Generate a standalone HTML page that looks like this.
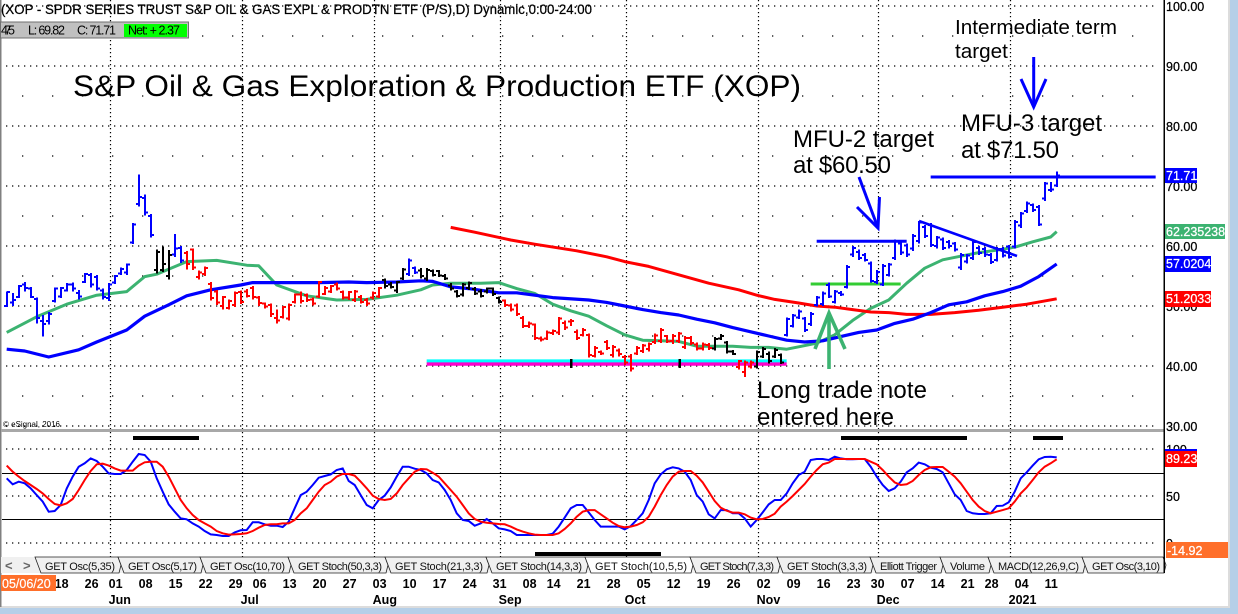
<!DOCTYPE html>
<html lang="en">
<head>
<meta charset="utf-8">
<title>XOP chart</title>
<style>
html,body{margin:0;padding:0;background:#b5cfe8;}
body{width:1238px;height:614px;overflow:hidden;}
svg{display:block;font-family:"Liberation Sans",Arial,sans-serif;}
.ax{font-size:12.5px;fill:#000;stroke:#000;stroke-width:.25;}
.tag{font-size:12.5px;fill:#fff;stroke:#fff;stroke-width:.25;}
.note{font-size:24px;fill:#000;}
.dt{font-size:12.5px;font-weight:bold;fill:#000;}
.tb{font-size:11px;fill:#111;}
</style>
</head>
<body>
<svg id="chart" xmlns="http://www.w3.org/2000/svg" width="1238" height="614" viewBox="0 0 1238 614">
  <rect x="0" y="0" width="1238" height="614" fill="#b5cfe8"/>
  <rect x="0" y="0" width="1229" height="607" fill="#fff"/>
  <rect x="1228" y="0" width="2" height="608" fill="#dcdcdc"/>
  <rect x="0" y="606" width="1230" height="2" fill="#dcdcdc"/>
  <rect x="0" y="0" width="1.5" height="607" fill="#808080"/>
  <g id="grid"></g>
  <g id="levels"></g>
  <g id="mas"></g>
  <g id="bars" shape-rendering="crispEdges"></g>
  <g id="osc"></g>

  <g fill="#000">
    <rect x="570" y="359" width="2.5" height="9"/>
    <rect x="678.5" y="359" width="2.5" height="9"/>
  </g>
  <g stroke="#3cb371" stroke-width="3.6" fill="none">
    <path d="M829 369V313"/>
    <path d="M815 349L829 313L845 349"/>
  </g>
  <g stroke="#0000ff" stroke-width="3" fill="none">
    <path d="M859 177L878 228"/>
    <path d="M857 207L878 228L879.5 197"/>
  </g>
  <g stroke="#0000ff" stroke-width="3" fill="none">
    <path d="M1033.7 57V107"/>
    <path d="M1021 79L1033.7 107L1046 79"/>
  </g>
  <line x1="919" y1="221" x2="1017" y2="256" stroke="#0000ff" stroke-width="2.6"/>

  <text x="1" y="14" font-size="13.5" textLength="591" lengthAdjust="spacingAndGlyphs" stroke="#000" stroke-width=".25">(XOP - SPDR SERIES TRUST S&amp;P OIL &amp; GAS EXPL &amp; PRODTN ETF (P/S),D) Dynamic,0:00-24:00</text>
  <g>
    <rect x="0.5" y="22" width="188" height="16" fill="#c0c0c0" stroke="#707070"/>
    <text x="1" y="34.5" font-size="12.5" textLength="14">475</text>
    <text x="28" y="34.5" font-size="12.5" textLength="37">L: 69.82</text>
    <text x="77" y="34.5" font-size="12.5" textLength="39">C: 71.71</text>
    <rect x="124" y="24" width="63" height="13" fill="#00ff00"/>
    <text x="128" y="34.5" font-size="12.5" textLength="52">Net: + 2.37</text>
  </g>
  <text x="73" y="96" font-size="30" textLength="728" lengthAdjust="spacingAndGlyphs">S&amp;P Oil &amp; Gas Exploration &amp; Production ETF (XOP)</text>
  <text x="3" y="427" font-size="8" textLength="57">© eSignal, 2016</text>

  <text class="note" x="955" y="34" style="font-size:20.7px" textLength="162">Intermediate term</text>
  <text class="note" x="955" y="58" style="font-size:20.7px">target</text>
  <text class="note" x="961" y="131" textLength="141">MFU-3 target</text>
  <text class="note" x="961" y="158" textLength="98">at $71.50</text>
  <text class="note" x="793" y="147" textLength="141">MFU-2 target</text>
  <text class="note" x="793" y="173" textLength="98">at $60.50</text>
  <text class="note" x="757" y="398" textLength="170">Long trade note</text>
  <text class="note" x="757" y="425" textLength="137">entered here</text>

  <rect x="1" y="429" width="1163" height="3" fill="#a8a8a8"/>
  <rect x="133" y="436" width="66" height="4" fill="#000"/>
  <rect x="841" y="436" width="126" height="4" fill="#000"/>
  <rect x="1033" y="436" width="30" height="4" fill="#000"/>

  <rect x="1" y="557" width="1163" height="16" fill="#f0f0f0"/>
  <rect x="535" y="552" width="126" height="4" fill="#000"/>
  <text x="5" y="570" font-size="13" font-weight="bold" fill="#666">&lt;</text>
  <text x="23" y="570" font-size="13" font-weight="bold" fill="#666">&gt;</text>
  <g id="tabs"></g>
  <g id="dates"></g>
  <rect x="1" y="575" width="55" height="16" fill="#ff6f2a"/>
  <text x="2" y="588" font-size="12.5" fill="#fff" stroke="#fff" stroke-width=".2">05/06/20</text>

  <rect x="1163.5" y="0" width="1.5" height="573" fill="#000"/>
  <g id="yaxis"></g>
  <rect x="1165" y="168" width="32" height="15" fill="#0000ff"/>
  <text class="tag" x="1166" y="180">71.71</text>
  <rect x="1165" y="224" width="60" height="15" fill="#3cb371"/>
  <text class="tag" x="1166" y="236">62.235238</text>
  <rect x="1165" y="256" width="46" height="16" fill="#0000ff"/>
  <text class="tag" x="1166" y="268">57.0204</text>
  <rect x="1165" y="291" width="46" height="16" fill="#ff0000"/>
  <text class="tag" x="1166" y="303">51.2033</text>
  <rect x="1165" y="449" width="32" height="3" fill="#0000ff"/>
  <rect x="1165" y="451" width="32" height="16" fill="#ff0000"/>
  <text class="tag" x="1166" y="463">89.23</text>
  <rect x="1166" y="542" width="62" height="16" fill="#ff6f2a"/>
  <text class="tag" x="1167" y="555">-14.92</text>
</svg>
<script>
const highs = [52.4,52.2,53.5,54.0,53.2,51.4,48.5,49.0,53.1,53.2,
53.8,53.9,52.7,55.5,55.5,55.2,52.9,53.8,55.2,56.4,
57.1,63.8,71.9,68.6,65.3,59.4,59.9,59.3,62.0,60.0,
59.2,59.6,55.9,56.6,54.0,52.7,51.7,51.1,52.4,52.6,
52.8,53.3,51.7,50.6,50.4,49.4,50.0,50.4,52.1,52.4,
52.1,51.4,54.2,53.3,53.5,53.9,52.6,52.5,52.7,51.8,
51.3,52.4,53.2,54.6,54.0,54.2,56.3,57.9,56.6,56.3,
56.3,56.1,56.0,55.3,53.8,52.7,53.8,54.1,53.2,52.8,
53.1,53.1,51.6,51.1,50.4,50.4,48.3,47.4,47.1,44.9,
45.9,46.1,48.2,47.6,47.8,46.1,46.3,45.4,43.3,42.6,
44.3,43.5,42.9,41.8,42.0,43.3,43.7,43.9,45.4,46.3,
45.2,45.3,45.7,45.0,45.0,43.9,43.9,43.8,44.8,45.3,
44.2,42.7,41.0,40.9,40.9,42.6,43.2,42.4,43.0,42.1,
48.1,48.7,49.4,48.2,49.0,51.7,52.4,53.9,52.7,52.5,
56.8,60.0,59.4,58.8,57.4,56.0,57.0,57.2,61.1,60.7,
60.4,62.0,64.2,63.5,63.8,61.7,61.4,61.0,60.7,58.8,
58.7,61.0,60.0,59.8,58.8,59.8,59.8,60.2,64.3,65.7,
67.4,67.1,66.8,70.7,70.7,72.4];
const lows = [49.8,50.0,51.3,52.4,51.3,47.1,44.9,46.9,50.6,51.3,
52.4,52.4,51.1,53.8,53.1,52.6,51.1,50.8,53.7,55.2,
55.2,60.3,66.6,65.1,61.4,55.4,55.7,54.4,58.2,57.2,
56.1,56.0,54.4,55.0,50.9,50.2,49.4,49.4,49.8,50.3,
51.4,51.1,50.0,49.6,48.2,47.1,47.9,47.6,50.4,50.4,
50.7,50.1,51.3,51.8,52.2,52.6,51.1,51.0,50.7,50.4,
50.0,51.1,51.3,52.9,52.9,52.2,54.3,55.0,55.3,54.6,
54.2,54.9,54.8,54.3,52.6,51.4,51.6,52.7,51.8,51.4,
52.1,51.7,50.4,49.8,49.1,48.3,46.3,46.3,44.3,44.1,
44.3,45.2,45.2,46.0,46.7,44.3,44.9,41.4,41.4,41.8,
42.7,41.4,41.6,40.2,39.1,41.8,42.2,42.4,43.7,43.8,
43.8,43.7,43.8,42.8,43.5,42.6,42.6,42.7,42.6,44.3,
42.1,41.8,39.4,38.2,39.6,39.6,41.3,40.4,41.3,40.3,
44.9,46.4,47.8,45.7,46.7,49.9,50.0,51.3,50.4,51.7,
52.9,58.2,57.7,57.4,53.9,53.7,53.3,54.9,57.7,58.5,
58.2,59.2,60.4,61.3,59.8,59.6,59.3,59.6,59.1,56.0,
57.1,57.7,58.5,58.2,57.0,57.4,58.1,57.9,59.6,63.0,
65.5,65.7,63.3,67.5,69.0,69.8];
const opens = [50.0,50.6,51.5,53.6,52.9,51.2,47.5,47.5,50.8,51.6,
52.6,53.6,52.2,54.0,55.2,54.8,52.6,51.3,53.9,55.4,
55.6,60.6,67.0,68.0,65.0,56.0,56.0,55.0,58.6,59.7,
58.8,59.4,54.8,55.3,53.7,52.4,50.0,49.7,50.2,52.3,
52.4,53.0,51.4,50.4,50.2,48.0,48.2,47.9,50.7,51.9,
51.8,51.1,51.6,52.0,52.4,53.6,52.3,51.4,51.0,51.5,
51.0,51.4,51.6,54.3,53.6,52.6,54.6,55.3,56.3,55.9,
54.6,55.8,55.8,55.0,53.4,52.4,51.9,53.0,52.8,52.4,
52.4,52.9,51.3,50.9,50.1,50.1,48.0,46.7,46.9,44.6,
44.6,45.5,45.6,47.2,47.4,45.7,45.2,45.2,41.7,42.3,
44.0,41.8,42.6,41.5,41.6,42.1,42.5,42.8,44.0,44.2,
45.0,44.2,44.2,43.2,44.7,43.6,42.9,43.5,42.9,44.6,
43.9,42.4,39.8,39.0,39.9,39.9,41.6,42.0,41.6,41.8,
45.2,46.7,48.1,47.9,47.0,50.2,50.3,53.5,50.7,52.2,
53.2,58.6,59.0,58.5,57.1,54.0,53.6,55.2,58.0,60.4,
60.1,59.6,60.8,63.2,63.5,60.0,61.1,60.7,60.4,56.4,
57.4,58.0,59.7,59.5,58.5,57.7,59.5,59.9,59.9,63.4,
65.8,66.8,66.5,67.9,69.3,70.1];
const closes = [52.3,51.0,53.3,53.0,51.5,48.0,47.0,48.7,52.9,53.0,
53.6,52.9,51.6,55.3,53.6,52.9,51.5,53.6,55.0,56.2,
56.9,63.6,68.2,65.6,61.8,59.0,57.0,58.5,59.6,57.6,
57.0,56.4,55.6,56.3,51.3,50.6,51.5,50.8,52.2,50.7,
51.7,51.5,50.5,49.9,48.7,47.6,49.8,50.2,51.9,50.8,
51.0,50.4,54.0,53.0,53.3,52.9,51.4,52.3,52.4,50.7,
50.4,52.2,53.0,53.3,53.2,54.0,56.1,57.6,55.6,55.0,
56.0,55.2,55.1,54.6,52.9,51.7,53.6,53.8,52.1,51.7,
52.9,52.0,50.7,50.2,49.4,48.7,46.7,47.1,44.7,44.4,
45.6,45.8,47.9,46.4,47.5,44.7,46.0,41.8,43.0,42.1,
43.0,43.2,42.0,40.6,39.6,43.0,43.4,43.7,45.1,46.0,
44.1,45.0,45.4,44.7,43.8,42.9,43.6,43.0,44.5,45.0,
42.4,42.0,40.8,40.6,40.6,42.3,42.8,40.8,42.7,40.6,
47.8,48.4,49.1,46.0,48.7,51.4,52.1,51.6,52.4,51.9,
56.5,59.7,58.0,57.7,54.2,55.7,56.7,56.9,60.8,58.9,
58.6,61.7,63.9,61.7,60.2,61.4,59.7,60.0,59.4,58.5,
58.4,60.7,58.8,58.6,57.3,59.5,58.4,58.2,64.0,65.4,
67.1,66.0,63.6,70.4,69.4,71.71];
const regimeStarts = [0,25,28,30,63,67,69,83,118,122,125,130];
const regimeNames = ["up","neutral","up","down","neutral","up","neutral","down","neutral","down","neutral","up"];

const maGreenBars = [0,5,10,15,20,23,25,30,35,40,42,45,50,55,60,65,69,71,74,79,82,85,88,91,94,97,100,103,106,109,112,115,118,121,124,127,130,132,135,138,141,144,147,150,153,156,159,162,165,168,171,174,175];
const maGreenValues = [45.6,48.2,50.3,51.8,52.4,54.9,55.3,57.4,57.6,56.8,56.7,53.5,51.7,51.0,51.1,51.8,52.7,53.5,53.8,53.8,53.9,52.9,52.1,50.3,49.2,48.3,46.7,45.2,44.3,44.2,44.1,43.3,43.3,43.3,43.1,43.1,42.8,43.2,43.8,45.2,47.6,49.6,51.0,53.8,56.3,57.7,58.3,58.9,59.3,59.8,60.7,61.5,62.4];
const maBlueBars = [0,3,7,12,15,20,23,27,30,34,39,41,46,52,57,60,65,69,71,74,77,82,85,88,91,97,100,103,106,109,112,115,118,121,124,127,130,133,136,139,142,145,148,151,154,157,160,163,166,169,172,175];
const maBlueValues = [42.8,42.5,41.5,42.7,44.0,46.0,48.3,50.2,51.7,52.7,53.5,53.9,53.9,53.9,54.0,53.9,54.0,54.2,54.1,53.2,52.9,52.2,52.2,51.8,51.4,51.0,50.6,50.0,49.4,48.9,48.5,47.8,47.2,46.4,45.7,45.0,44.3,44.0,44.2,44.9,45.6,46.0,47.1,47.8,48.9,50.2,50.7,51.7,52.4,53.3,54.9,57.0];
const maRedBars = [74,78,84,88,95,100,103,107,112,117,122,125,128,132,135,138,141,144,147,150,154,158,162,166,170,175];
const maRedValues = [63.1,62.3,61.0,60.3,59.2,58.2,57.4,56.6,55.2,53.8,52.7,51.8,51.1,50.5,50.0,49.8,49.4,49.0,48.9,48.6,48.6,48.9,49.3,49.8,50.3,51.2];

const oscFast = [68.8,62.4,65.2,63.5,58.2,51,44,33.3,34,40.4,
58,70.6,81.2,84.8,90,87.2,81.2,74,73.4,73.4,
77.7,86.5,94.7,93.6,86.5,68.8,54.6,41.1,33.3,26.2,
25.2,20.9,17.4,12.8,9.2,8.5,7.4,7.4,11.3,13.5,
13.8,22,22,19.9,18.4,18.4,17,22.7,36.9,51,
54.6,61.7,69.5,71.3,73,77.7,79.4,66,61.7,51,
40.4,36.9,45.7,50.4,59.2,70.6,81.2,81.2,79,77.7,
74,67,64.5,56.4,45.7,31.6,24.5,23.4,18.4,20.9,
25.5,20.9,15.6,14.5,12.8,8.5,8.5,8.5,8.5,8.5,
8.5,9.9,17.4,27,36.9,40.4,40.4,32.6,24.5,17.4,
17.4,17.4,17.4,14.5,18,24.5,31.6,45.7,63.5,73,
78.4,80.5,79.4,75.9,67,51,44,30.5,26.2,35,
35,31.6,31.6,26.2,17.4,24.5,32.6,41.1,45.7,45.7,
52.8,63.5,72.3,75.9,88.3,89.4,89.4,88.3,91.8,90,
89,89,89.4,89.4,81.2,70.6,61.7,55.3,58.2,65.2,
75.2,79.4,85.5,83.7,80.1,78.7,75.2,63.5,51.8,45.7,
34,31.6,30.9,30.9,31.6,39.4,39.7,43.3,54.6,68.8,
75.2,82.3,89,91.5,91.8,91.1];
const oscSlow = [82.3,75.9,70.6,66,61.7,57.4,52.8,46.8,41.5,40,
42.2,46.8,56.4,67,76.6,83.7,84.4,82.3,79.4,77,
77,77,82.3,85.8,86.5,86.5,81.2,70.6,58.2,45.7,
36.9,29.8,24.5,20.9,17.4,12.8,10.3,8.9,9.2,9.6,
10.3,12.8,16.3,19.1,19.9,19.9,20.9,20.9,24.5,31.6,
36.9,45.7,54.6,61.7,65.2,70.6,73.4,73.4,71.6,65.2,
58.2,50.4,46.8,45.7,46.8,52.8,61.7,68.8,75.9,78.7,
78.4,74.8,70.6,63.5,56.4,49.3,40.4,31.6,25.5,22.7,
21.6,20.9,20.2,19.9,17.4,14.5,12.1,10.3,8.9,8.5,
8.5,8.5,10.3,14.9,20.9,28,33.3,35,35,30.5,
26.2,21.6,18.1,16.7,17.4,19.1,22,28,38.7,51,
61.7,70.6,75.9,76.6,76.6,71.6,64.5,54.6,44.7,37.6,
34.4,32.3,32.3,30.5,27,25.2,25.5,27.7,31.2,38.7,
44,50,56.4,62.8,70.6,77.7,83.7,85.5,89.4,89.4,
89.4,89.4,89.4,89.4,86.5,83.7,77.7,70.6,64.5,61.7,
62.4,66,72.3,77.7,80.5,80.9,80.9,75.9,70.6,63.5,
54.6,45.7,38.7,34,31.6,33.3,35,36.9,44,52.8,
59.2,67,75.2,81.2,84.8,89];

const priceTicks = [100,90,80,70,60,50,40,30];
const priceTickLabels = ["100.00","90.00","80.00","70.00","60.00","50.00","40.00","30.00"];
const minorPriceTicks = [95,85,75,65,55,45,35];
const oscTicks = [100,50,0];
const oscTickLabels = ["100","50","0"];
const oscBands = [75,25.7];
const dayBars = [8,13,17,22,27,32,37,41,46,51,56,61,66,71,76,81,86,90,95,100,105,110,115,120,125,130,135,140,144,149,154,159,163,168,173];
const dayLabels = ["18","26","01","08","15","22","29","06","13","20","27","03","10","17","24","31","08","14","21","28","05","12","19","26","02","09","16","23","30","07","14","21","28","04","11"];
const monthBars = [17,39,61,82,103,125,145,167];
const monthLabels = ["Jun","Jul","Aug","Sep","Oct","Nov","Dec","2021"];
const tabLabels = ["GET Osc(5,35)","GET Osc(5,17)","GET Osc(10,70)","GET Stoch(50,3,3)","GET Stoch(21,3,3)","GET Stoch(14,3,3)","GET Stoch(10,5,5)","GET Stoch(7,3,3)","GET Stoch(3,3,3)","Elliott Trigger","Volume","MACD(12,26,9,C)","GET Osc(3,10)"];
const tabEdges = [35,118,200,288,385,486,585,690,777,870,940,988,1082,1163];
const levelValues = [71.5,60.8,53.67,40.83,40.33];
const levelStartBars = [154,135,134,70,70];
const levelEndBars = [191.5,150,149,130,130];
const levelNames = ["mfu3-target-line","mfu2-target-line","support-breakout-line","base-line-cyan","base-line-magenta"];
const levelColors = ["#0000ff","#0000ff","#33cc33","#00ffff","#ff00cc"];

const NS = "http://www.w3.org/2000/svg";
const xBar = i => 6.67 + 6 * i;
const yPrice = p => 366 - (p - 40) * 6;
const yOsc = v => 543 - v * 0.94;
const regimeColor = {up:"#0000ff",neutral:"#000000",down:"#ff0000"};

function el(tag, parent) {
  const e = document.createElementNS(NS, tag);
  parent.appendChild(e);
  return e;
}
function regimeAt(i) {
  let r = regimeNames[0];
  for (let k = 0; k < regimeStarts.length; k++) { if (i >= regimeStarts[k]) r = regimeNames[k]; }
  return r;
}
function linePath(bars, vals, yf) {
  return bars.map((b, k) => (k ? "L" : "M") + xBar(b).toFixed(1) + " " + yf(vals[k]).toFixed(1)).join("");
}

/* grid */
const grid = document.getElementById("grid");
priceTicks.forEach(p => {
  const l = el("line", grid);
  
  
  l.setAttribute("x1", 6); l.setAttribute("x2", 1156);
  l.setAttribute("y1", yPrice(p)); l.setAttribute("y2", yPrice(p));
  l.setAttribute("stroke", "#000"); l.setAttribute("stroke-width", "1.3"); l.setAttribute("stroke-dasharray", "1.3 4.7");
});
minorPriceTicks.forEach(p => {
  const l = el("line", grid);
  
  
  l.setAttribute("x1", 22); l.setAttribute("x2", 1156);
  l.setAttribute("y1", yPrice(p)); l.setAttribute("y2", yPrice(p));
  l.setAttribute("stroke", "#000"); l.setAttribute("stroke-width", "1.3"); l.setAttribute("stroke-dasharray", "1.3 28.7");
});
oscTicks.forEach(v => {
  const l = el("line", grid);
  
  
  l.setAttribute("x1", 6); l.setAttribute("x2", 1156);
  l.setAttribute("y1", yOsc(v)); l.setAttribute("y2", yOsc(v));
  l.setAttribute("stroke", "#000"); l.setAttribute("stroke-width", "1.3"); l.setAttribute("stroke-dasharray", "1.3 4.7");
});
oscBands.forEach(v => {
  const l = el("line", grid);
  
  
  l.setAttribute("x1", 2); l.setAttribute("x2", 1164);
  l.setAttribute("y1", Math.round(yOsc(v)) + 0.5); l.setAttribute("y2", Math.round(yOsc(v)) + 0.5);
  l.setAttribute("stroke", "#000"); l.setAttribute("stroke-width", "1");
});
monthBars.forEach(b => {
  const x = Math.round(xBar(b) + 1) + 0.5;
  const l = el("line", grid);
  
  
  l.setAttribute("x1", x); l.setAttribute("x2", x);
  l.setAttribute("y1", 0); l.setAttribute("y2", 557);
  l.setAttribute("stroke", "#000"); l.setAttribute("stroke-width", "1.2"); l.setAttribute("stroke-dasharray", "1.3 2.7");
});

/* levels */
const levelsG = document.getElementById("levels");
levelValues.forEach((v, k) => {
  const l = el("line", levelsG);
  
  
  l.setAttribute("x1", xBar(levelStartBars[k])); l.setAttribute("x2", xBar(levelEndBars[k]));
  l.setAttribute("y1", yPrice(v)); l.setAttribute("y2", yPrice(v));
  l.setAttribute("stroke", levelColors[k]);
  l.setAttribute("stroke-width", k < 3 ? 3 : 3.4);
});

/* moving averages */
const mas = document.getElementById("mas");
const maGreen = el("path", mas);


maGreen.setAttribute("d", linePath(maGreenBars, maGreenValues, yPrice));
maGreen.setAttribute("stroke", "#3cb371");
maGreen.setAttribute("stroke-width", "3");
maGreen.setAttribute("stroke-linejoin", "round");
maGreen.setAttribute("fill", "none");
const maRed = el("path", mas);


maRed.setAttribute("d", linePath(maRedBars, maRedValues, yPrice));
maRed.setAttribute("stroke", "#ff0000");
maRed.setAttribute("stroke-width", "3");
maRed.setAttribute("stroke-linejoin", "round");
maRed.setAttribute("fill", "none");
const maBlue = el("path", mas);


maBlue.setAttribute("d", linePath(maBlueBars, maBlueValues, yPrice));
maBlue.setAttribute("stroke", "#0000ff");
maBlue.setAttribute("stroke-width", "3.2");
maBlue.setAttribute("stroke-linejoin", "round");
maBlue.setAttribute("fill", "none");

/* price bars */
const barsG = document.getElementById("bars");
highs.forEach((h, i) => {
  const x = Math.round(xBar(i));
  const p = el("path", barsG);
  
  
  p.setAttribute("d", "M" + x + " " + yPrice(h).toFixed(1) + "V" + yPrice(lows[i]).toFixed(1) +
    "M" + (x - 3) + " " + yPrice(opens[i]).toFixed(1) + "H" + x +
    "M" + x + " " + yPrice(closes[i]).toFixed(1) + "H" + (x + 3));
  p.setAttribute("stroke", regimeColor[regimeAt(i)]);
  p.setAttribute("stroke-width", "2");
  p.setAttribute("fill", "none");
});

/* oscillator */
const oscG = document.getElementById("osc");
const oscBarsIdx = oscFast.map((_, i) => i);
const fastLine = el("path", oscG);


fastLine.setAttribute("d", linePath(oscBarsIdx, oscFast, yOsc));
fastLine.setAttribute("stroke", "#0000ff");
fastLine.setAttribute("stroke-width", "2");
fastLine.setAttribute("fill", "none");
const slowLine = el("path", oscG);


slowLine.setAttribute("d", linePath(oscBarsIdx, oscSlow, yOsc));
slowLine.setAttribute("stroke", "#ff0000");
slowLine.setAttribute("stroke-width", "2");
slowLine.setAttribute("fill", "none");

/* price axis labels */
const yaxis = document.getElementById("yaxis");
priceTicks.forEach((p, k) => {
  const t = el("text", yaxis);
  
  
  t.setAttribute("class", "ax");
  t.setAttribute("x", 1166);
  t.setAttribute("y", yPrice(p) + 5);
  t.textContent = priceTickLabels[k];
});
oscTicks.forEach((v, k) => {
  const t = el("text", yaxis);
  
  
  t.setAttribute("class", "ax");
  t.setAttribute("x", 1166);
  t.setAttribute("y", yOsc(v) + 5);
  t.textContent = oscTickLabels[k];
});

/* date axis */
const datesG = document.getElementById("dates");
dayBars.forEach((b, k) => {
  const t = el("text", datesG);
  
  
  t.setAttribute("class", "dt");
  t.setAttribute("x", xBar(b));
  t.setAttribute("y", 588);
  t.textContent = dayLabels[k];
});
monthBars.forEach((b, k) => {
  const t = el("text", datesG);
  
  
  t.setAttribute("class", "dt");
  t.setAttribute("x", xBar(b));
  t.setAttribute("y", 604);
  t.textContent = monthLabels[k];
});

/* tabs */
const tabsG = document.getElementById("tabs");
tabLabels.forEach((label, k) => {
  const L = tabEdges[k], R = tabEdges[k + 1];
  const poly = el("polygon", tabsG);
  
  
  poly.setAttribute("points", L + ",557 " + R + ",557 " + (R + 3) + ",565 " + (R + 1) + ",573 " + (L + 6) + ",573");
  poly.setAttribute("fill", k === 6 ? "#ffffff" : "#f0f0f0");
  poly.setAttribute("stroke", "#222");
  poly.setAttribute("stroke-width", "0.8");
});
tabLabels.forEach((label, k) => {
  const L = tabEdges[k], R = tabEdges[k + 1];
  const t = el("text", tabsG);
  
  
  t.setAttribute("class", "tb");
  t.setAttribute("x", L + 10);
  t.setAttribute("y", 570);
  t.setAttribute("textLength", R - L - 13);
  t.textContent = label;
});
</script>
</body>
</html>
